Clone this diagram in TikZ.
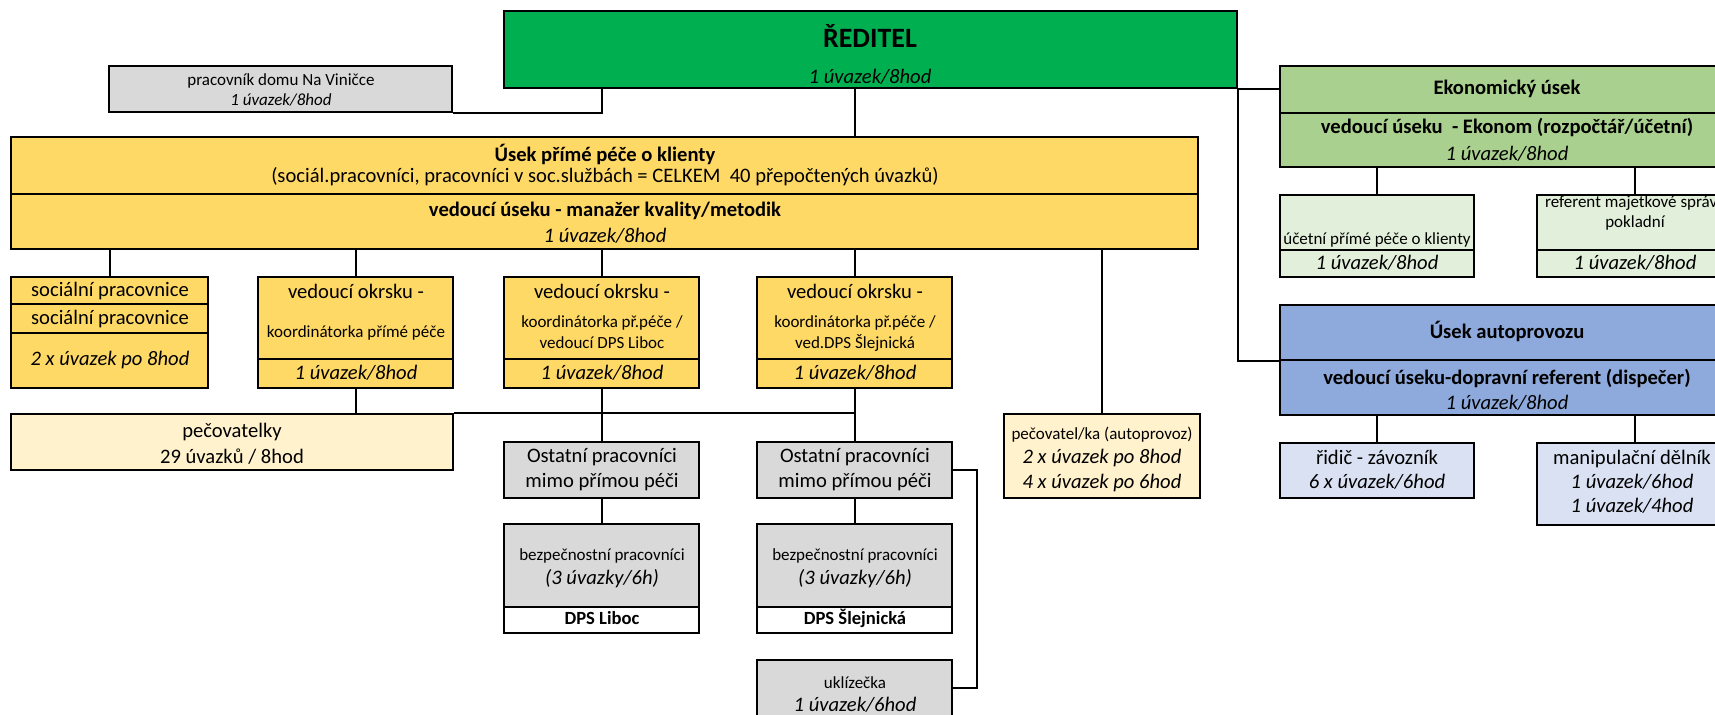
\documentclass[tikz,border=0pt]{standalone}
\usepackage{fontspec}
\setmainfont{Carlito}
\usetikzlibrary{fit}

\definecolor{zelena}{HTML}{00B050}
\definecolor{zluta}{HTML}{FFD966}
\definecolor{svzluta}{HTML}{FFF2CC}
\definecolor{seda}{HTML}{D9D9D9}
\definecolor{ekon}{HTML}{A9D08E}
\definecolor{svekon}{HTML}{E2EFDA}
\definecolor{modra}{HTML}{8EA9DB}
\definecolor{svmodra}{HTML}{D9E1F2}

\begin{document}
\begin{tikzpicture}[x=0.5pt,y=-0.5pt,
  cell/.style={draw,line width=1.3pt,inner sep=0pt},
  conn/.style={line width=1pt},
  tn/.style={inner sep=0pt,text height=7pt,text depth=2pt,font=\fontsize{10.3}{12}\selectfont},
  ti/.style={tn,font=\fontsize{10.3}{12}\selectfont\itshape},
  tb/.style={tn,font=\fontsize{10.3}{12}\selectfont\bfseries},
  ts/.style={inner sep=0pt,text height=6pt,text depth=1.7pt,font=\fontsize{8.5}{10}\selectfont},
  tsi/.style={ts,font=\fontsize{8.5}{10}\selectfont\itshape},
  tsb/.style={ts,font=\fontsize{9.3}{11}\selectfont\bfseries},
  titul/.style={inner sep=0pt,text height=9pt,text depth=0pt,font=\fontsize{14}{16}\selectfont\bfseries}]
  \useasboundingbox (0,0) rectangle (1715,714);
  \clip (0,0) rectangle (1715,714);
  \fill[white] (0,0) rectangle (1715,714);

  % reditel
  \node[cell,fill=zelena,fit={(504,11) (1237,88)}] (reditel) {};
  \node[titul] (reditel-t) at (870,38) {ŘEDITEL};
  \node[ti] (reditel-u) at (870,78) {1 úvazek/8hod};

  \node[cell,fill=seda,fit={(109,66) (452,112)}] (prac) {};
  \node[ts] (prac-t) at (281,81) {pracovník domu Na Viničce};
  \node[tsi] (prac-u) at (281,101) {1 úvazek/8hod};

  % usek prime pece
  \node[cell,fill=zluta,fit={(11,137) (1198,194)}] (usek1) {};
  \node[cell,fill=zluta,fit={(11,194) (1198,249)}] (usek2) {};
  \node[tb] (usek-t) at (605,156) {Úsek přímé péče o klienty};
  \node[tn] (usek-p) at (605,177) {(sociál.pracovníci, pracovníci v soc.službách = CELKEM\ \ 40 přepočtených úvazků)};
  \node[tb] (usek-v) at (605,211) {vedoucí úseku - manažer kvality/metodik};
  \node[ti] (usek-u) at (605,237) {1 úvazek/8hod};

  \node[cell,fill=zluta,fit={(11,277) (208,304)}] (soc1) {};
  \node[cell,fill=zluta,fit={(11,304) (208,333)}] (soc2) {};
  \node[cell,fill=zluta,fit={(11,333) (208,388)}] (soc3) {};
  \node[tn] (soc1-t) at (110,291) {sociální pracovnice};
  \node[tn] (soc2-t) at (110,319) {sociální pracovnice};
  \node[ti] (soc3-t) at (110,360) {2 x úvazek po 8hod};

  \node[cell,fill=zluta,fit={(258,277) (453,359)}] (vo1a) {};
  \node[cell,fill=zluta,fit={(258,359) (453,388)}] (vo1b) {};
  \node[tn] (vo1-t) at (356,293) {vedoucí okrsku -};
  \node[ts] (vo1-k) at (356,333) {koordinátorka přímé péče};
  \node[ti] (vo1-u) at (356,374) {1 úvazek/8hod};

  \node[cell,fill=zluta,fit={(504,277) (699,359)}] (vo2a) {};
  \node[cell,fill=zluta,fit={(504,359) (699,388)}] (vo2b) {};
  \node[tn] (vo2-t) at (602,293) {vedoucí okrsku -};
  \node[ts] (vo2-k) at (602,323) {koordinátorka př.péče /};
  \node[ts] (vo2-d) at (602,344) {vedoucí DPS Liboc};
  \node[ti] (vo2-u) at (602,374) {1 úvazek/8hod};

  \node[cell,fill=zluta,fit={(757,277) (952,359)}] (vo3a) {};
  \node[cell,fill=zluta,fit={(757,359) (952,388)}] (vo3b) {};
  \node[tn] (vo3-t) at (855,293) {vedoucí okrsku -};
  \node[ts] (vo3-k) at (855,323) {koordinátorka př.péče /};
  \node[ts] (vo3-d) at (855,344) {ved.DPS Šlejnická};
  \node[ti] (vo3-u) at (855,374) {1 úvazek/8hod};

  \node[cell,fill=svzluta,fit={(11,414) (453,470)}] (pec) {};
  \node[tn] (pec-t) at (232,432) {pečovatelky};
  \node[tn] (pec-u) at (232,458) {29 úvazků / 8hod};

  \node[cell,fill=seda,fit={(504,442) (699,498)}] (ost1) {};
  \node[tn] (ost1-t) at (602,457) {Ostatní pracovníci};
  \node[tn] (ost1-m) at (602,482) {mimo přímou péči};
  \node[cell,fill=seda,fit={(757,442) (952,498)}] (ost2) {};
  \node[tn] (ost2-t) at (855,457) {Ostatní pracovníci};
  \node[tn] (ost2-m) at (855,482) {mimo přímou péči};

  \node[cell,fill=seda,fit={(504,524) (699,607)}] (bez1) {};
  \node[cell,fill=white,fit={(504,607) (699,633)}] (dps1) {};
  \node[ts] (bez1-t) at (602,556) {bezpečnostní pracovníci};
  \node[ti] (bez1-u) at (602,579) {(3 úvazky/6h)};
  \node[tsb] (dps1-t) at (602,620) {DPS Liboc};
  \node[cell,fill=seda,fit={(757,524) (952,607)}] (bez2) {};
  \node[cell,fill=white,fit={(757,607) (952,633)}] (dps2) {};
  \node[ts] (bez2-t) at (855,556) {bezpečnostní pracovníci};
  \node[ti] (bez2-u) at (855,579) {(3 úvazky/6h)};
  \node[tsb] (dps2-t) at (855,620) {DPS Šlejnická};

  \node[cell,fill=seda,fit={(757,660) (952,716)}] (ukl) {};
  \node[ts] (ukl-t) at (855,684) {uklízečka};
  \node[ti] (ukl-u) at (855,706) {1 úvazek/6hod};

  \node[cell,fill=svzluta,fit={(1004,414) (1200,498)}] (pecak) {};
  \node[ts] (pecak-t) at (1102,435) {pečovatel/ka (autoprovoz)};
  \node[ti] (pecak-a) at (1102,458) {2 x úvazek po 8hod};
  \node[ti] (pecak-b) at (1102,483) {4 x úvazek po 6hod};

  % ekonomicky usek
  \node[cell,fill=ekon,fit={(1280,66) (1735,113)}] (ekon1) {};
  \node[cell,fill=ekon,fit={(1280,113) (1735,167)}] (ekon2) {};
  \node[tb] (ekon-t) at (1507,89) {Ekonomický úsek};
  \node[tb] (ekon-v) at (1507,128) {vedoucí úseku\ \ - Ekonom (rozpočtář/účetní)};
  \node[ti] (ekon-u) at (1507,155) {1 úvazek/8hod};

  \node[cell,fill=svekon,fit={(1280,195) (1474,250)}] (ucet1) {};
  \node[cell,fill=svekon,fit={(1280,250) (1474,277)}] (ucet2) {};
  \node[ts] (ucet-t) at (1377,240) {účetní přímé péče o klienty};
  \node[ti] (ucet-u) at (1377,264) {1 úvazek/8hod};

  \node[cell,fill=svekon,fit={(1537,195) (1732,250)}] (ref1) {};
  \node[cell,fill=svekon,fit={(1537,250) (1732,277)}] (ref2) {};
  \node[ts] (ref-t) at (1635,203) {referent majetkové správy};
  \node[ts] (ref-p) at (1635,223) {pokladní};
  \node[ti] (ref-u) at (1635,264) {1 úvazek/8hod};

  % autoprovoz
  \node[cell,fill=modra,fit={(1280,305) (1735,360)}] (auto1) {};
  \node[cell,fill=modra,fit={(1280,360) (1735,415)}] (auto2) {};
  \node[tb] (auto-t) at (1507,333) {Úsek autoprovozu};
  \node[tb] (auto-v) at (1507,379) {vedoucí úseku-dopravní referent (dispečer)};
  \node[ti] (auto-u) at (1507,404) {1 úvazek/8hod};

  \node[cell,fill=svmodra,fit={(1280,443) (1474,498)}] (ridic) {};
  \node[tn] (ridic-t) at (1377,459) {řidič - závozník};
  \node[ti] (ridic-u) at (1377,483) {6 x úvazek/6hod};

  \node[cell,fill=svmodra,fit={(1537,443) (1732,525)}] (manip) {};
  \node[tn] (manip-t) at (1632,459) {manipulační dělník};
  \node[ti] (manip-a) at (1632,483) {1 úvazek/6hod};
  \node[ti] (manip-b) at (1632,507) {1 úvazek/4hod};

  % spojnice
  \draw[conn] (prac.south east) -| (reditel.south -| vo2a.north);
  \draw[conn] (reditel.south -| vo3a.north) -- (usek1.north -| vo3a.north);
  \draw[conn] (reditel.south east) -- (ekon1.west |- reditel.south east);
  \draw[conn] (reditel.south east) |- (auto1.south west);
  \foreach \n in {soc1,vo1a,vo2a,vo3a,pecak}
    \draw[conn] (usek2.south -| \n.north) -- (\n.north);
  \draw[conn] (vo1b.south) -- (pec.north -| vo1b.south);
  \draw[conn] (pec.north east) -- (pec.north -| vo3b.south);
  \draw[conn] (vo2b.south) -- (ost1.north);
  \draw[conn] (vo3b.south) -- (ost2.north);
  \draw[conn] (ost1.south) -- (bez1.north);
  \draw[conn] (ost2.south) -- (bez2.north);
  \draw[conn] (ost2.east) -- ++(24,0) |- (ukl.east);
  \foreach \n in {ucet1,ref1}
    \draw[conn] (ekon2.south -| \n.north) -- (\n.north);
  \foreach \n in {ridic,manip}
    \draw[conn] (auto2.south -| \n.north) -- (\n.north);
\end{tikzpicture}
\end{document}
